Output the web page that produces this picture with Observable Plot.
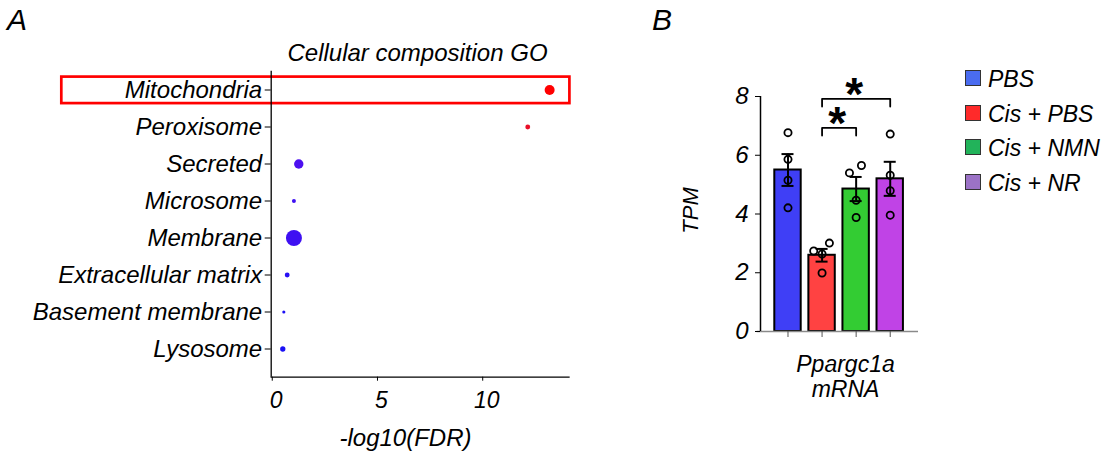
<!DOCTYPE html>
<html><head><meta charset="utf-8">
<script src="https://cdn.jsdelivr.net/npm/d3@7"></script>
<script src="https://cdn.jsdelivr.net/npm/@observablehq/plot@0.6"></script>
<style>
body{margin:0;background:#fff;font-family:"Liberation Sans",Arial,sans-serif;}
#wrap{position:relative;width:1106px;height:457px;overflow:hidden;background:#fff;}
.it{font-style:italic;color:#000;white-space:nowrap;}
.sw{position:absolute;width:14px;height:14px;border:1px solid #333;}
</style></head><body><div id="wrap"></div>
<script>
// ---------- Panel A data ----------
const goTerms = ["Mitochondria","Peroxisome","Secreted","Microsome","Membrane","Extracellular matrix","Basement membrane","Lysosome"];
const negLog10FDR = [13.18, 12.14, 1.26, 1.03, 1.03, 0.71, 0.55, 0.50];
const geneCounts = [50, 12, 44, 8, 128, 12, 5, 14];
const highlightedTerms = ["Mitochondria"];
const xTicksA = [0, 5, 10];
const titleA = "Cellular composition GO";
const xLabelA = "-log10(FDR)";

// ---------- Panel B data ----------
const groups = ["PBS", "Cis + PBS", "Cis + NMN", "Cis + NR"];
const tpmPBS    = [6.77, 5.86, 5.15, 4.21];
const tpmCisPBS = [3.01, 2.74, 2.64, 1.99];
const tpmCisNMN = [5.65, 5.40, 4.47, 3.88];
const tpmCisNR  = [6.72, 5.32, 4.79, 3.96];
// horizontal scatter of the replicate circles, in group-slot units
const jitterPBS    = [0, 0, 0, 0];
const jitterCisPBS = [0.215, -0.245, 0, 0];
const jitterCisNMN = [0.156, -0.196, 0, 0];
const jitterCisNR  = [0, 0, 0, 0];
const yTicksB = [0, 2, 4, 6, 8];
const comparisons = [
  {from: 1, to: 3, level: 7.92, label: "*"},
  {from: 1, to: 2, level: 6.93, label: "*"}
];
const yLabelB = "TPM";
const xLabelB = "Ppargc1a\nmRNA";

// ---------- styles ----------
const font = '"Liberation Sans", Arial, sans-serif';
const barColors = ["#3f3ff6", "#ff4242", "#33cc33", "#c043e6"];
const legendColors = ["#4a6cf0", "#ff2a2a", "#22b35a", "#9b72c6"];

const wrap = document.getElementById("wrap");
function place(el, left, top) { el.style.position = "absolute"; el.style.left = left + "px"; el.style.top = top + "px"; wrap.appendChild(el); }

// ---------- Panel A ----------
const dataA = goTerms.map((t, i) => ({term: t, fdr: negLog10FDR[i], genes: geneCounts[i]}));
const xDomA = [-0.05, 14.1];
const plotA = Plot.plot({
  width: 600, height: 457,
  marginLeft: 270.7, marginRight: 31.5, marginTop: 70.7, marginBottom: 80.3,
  style: {fontFamily: font, fontSize: "20px", fontStyle: "italic", color: "#000", background: "transparent", overflow: "visible"},
  x: {domain: xDomA},
  y: {domain: goTerms, paddingInner: 0, paddingOuter: 0.04, align: 0},
  r: {domain: [0, d3.max(geneCounts)], range: [0, 8]},
  color: {type: "linear", domain: [0.5, 1.3, 12.1, 13.2], range: ["#1a10f5", "#5010f0", "#e8102a", "#ff0000"]},
  marks: [
    Plot.barX(highlightedTerms, {y: d => d, x1: () => xDomA[0], x2: () => xDomA[1], fill: "none", stroke: "#ff0000", strokeWidth: 2.7,
      insetTop: 5.6, insetBottom: 4.9, insetLeft: -209.4, insetRight: -0.9}),
    Plot.ruleX([xDomA[0]], {stroke: "#000", strokeWidth: 1.3}),
    Plot.frame({anchor: "bottom", stroke: "#000", strokeWidth: 1.3}),
    Plot.axisY({tickSize: 6, tickPadding: 3, fontSize: 24, label: null}),
    Plot.axisX({ticks: xTicksA, tickSize: 4, tickFormat: () => "", label: null}),
    Plot.axisX({ticks: xTicksA, tickSize: 0, tickPadding: 14, dx: 4, fontSize: 23, label: null}),
    Plot.dot(dataA, {x: "fdr", y: "term", r: "genes", fill: "fdr"}),
    Plot.text([titleA], {frameAnchor: "top", textAnchor: "middle", lineAnchor: "middle", dx: -2.6, dy: -18, fontSize: 24}),
    Plot.text([xLabelA], {frameAnchor: "bottom", textAnchor: "middle", lineAnchor: "middle", dx: -14.6, dy: 61.3, fontSize: 24})
  ]
});
place(plotA, 0, 0);

// ---------- Panel B ----------
const tpm = [tpmPBS, tpmCisPBS, tpmCisNMN, tpmCisNR];
const jit = [jitterPBS, jitterCisPBS, jitterCisNMN, jitterCisNR];
const points = [];
tpm.forEach((arr, i) => arr.forEach((v, k) => points.push({i, group: groups[i], tpm: v, jitter: jit[i][k]})));
const stats = groups.map((g, i) => {
  const m = d3.mean(tpm[i]);
  const se = d3.deviation(tpm[i]) / Math.sqrt(tpm[i].length);
  return {i, group: g, mean: m, lo: m - se, hi: m + se};
});
const halfBar = 0.3875, halfCap = 0.176, drop = 0.26;
const bracketPts = [];
comparisons.forEach((c, k) => {
  bracketPts.push({k, x: c.from, y: c.level - drop}, {k, x: c.from, y: c.level}, {k, x: c.to, y: c.level}, {k, x: c.to, y: c.level - drop});
});
const xDomB = [-0.807, 3.83];
const plotB = Plot.plot({
  width: 300, height: 457,
  marginLeft: 120, marginRight: 22, marginTop: 96, marginBottom: 126,
  style: {fontFamily: font, fontSize: "22px", fontStyle: "italic", color: "#000", background: "transparent", overflow: "visible"},
  x: {domain: xDomB},
  y: {domain: [0, 8]},
  color: {domain: groups, range: barColors},
  marks: [
    Plot.rectY(stats, {x1: d => d.i - halfBar, x2: d => d.i + halfBar, y1: () => 0, y2: "mean", fill: "group", stroke: "#000", strokeWidth: 2}),
    Plot.ruleX(stats, {x: "i", y1: "lo", y2: "hi", stroke: "#000", strokeWidth: 2}),
    Plot.ruleY(stats, {y: "hi", x1: d => d.i - halfCap, x2: d => d.i + halfCap, stroke: "#000", strokeWidth: 2}),
    Plot.ruleY(stats, {y: "lo", x1: d => d.i - halfCap, x2: d => d.i + halfCap, stroke: "#000", strokeWidth: 2}),
    Plot.dot(points, {x: d => d.i + d.jitter, y: "tpm", r: 3.6, fill: "none", stroke: "#000", strokeWidth: 1.8}),
    Plot.ruleY([0], {x1: () => xDomB[0] - 0.1, x2: () => xDomB[1], stroke: "#8a8a8a", strokeWidth: 1.5}),
    Plot.ruleX([xDomB[0]], {stroke: "#000", strokeWidth: 1.5}),
    Plot.axisY({ticks: yTicksB, tickSize: 5, tickPadding: 7, fontSize: 24, label: null}),
    Plot.axisX({ticks: [0, 1, 2, 3], tickSize: 6, tickFormat: () => "", label: null, stroke: "#555"}),
    Plot.line(bracketPts, {x: "x", y: "y", z: "k", stroke: "#000", strokeWidth: 1.8}),
    Plot.text(comparisons, {x: d => (d.from + d.to) / 2, y: "level", text: "label", fontSize: 46, fontWeight: "bold", fontStyle: "normal", dx: -2, dy: -3.5}),
    Plot.text([yLabelB], {frameAnchor: "left", textAnchor: "middle", lineAnchor: "middle", rotate: -90, dx: -69.2, dy: -3.5, fontSize: 22}),
    Plot.text([xLabelB], {frameAnchor: "bottom", textAnchor: "middle", lineAnchor: "middle", dx: 6, dy: 44.7, fontSize: 23, lineHeight: 1.1})
  ]
});
place(plotB, 640, 0);

// ---------- Legend ----------
const rowY = [78, 112.5, 147, 181.5];
groups.forEach((g, i) => {
  const sw = document.createElement("div");
  sw.className = "sw";
  sw.style.background = legendColors[i];
  place(sw, 965, rowY[i] - 8);
  const t = document.createElement("div");
  t.className = "it";
  t.textContent = g;
  t.style.fontSize = "23px";
  t.style.lineHeight = "26px";
  place(t, 988, rowY[i] - 12);
});

// ---------- Panel letters ----------
[["A", 7, 4], ["B", 652, 4]].forEach(([s, x, y]) => {
  const el = document.createElement("div");
  el.className = "it";
  el.textContent = s;
  el.style.fontSize = "30px";
  el.style.lineHeight = "32px";
  place(el, x, y);
});
</script></body></html>
